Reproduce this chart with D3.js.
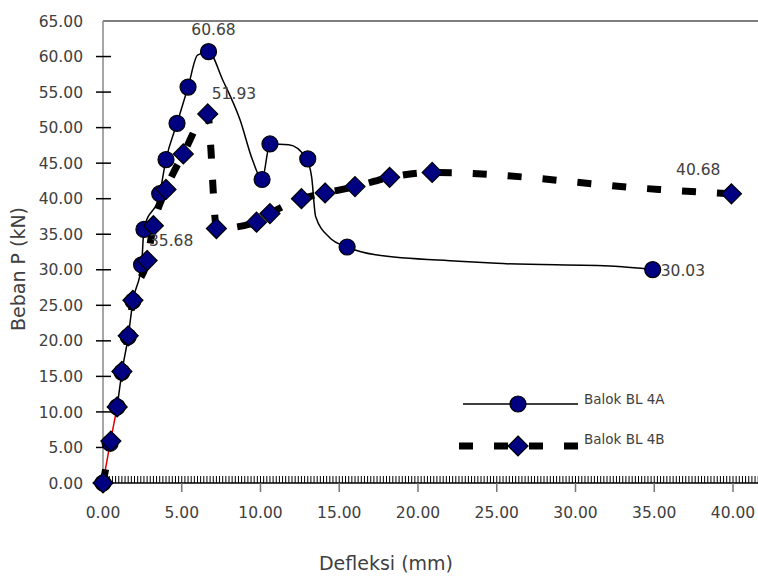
<!DOCTYPE html>
<html>
<head>
<meta charset="utf-8">
<script src="https://cdn.jsdelivr.net/npm/d3@7"></script>
<style>
 body { margin: 0; background: #fff; }
 text { font-family: "DejaVu Sans", sans-serif; fill: #404040; }
</style>
</head>
<body>
<svg width="758" height="578"></svg>
<script>
// Balok BL 4A - markers
var dispA = [0, 0.45, 0.9, 1.2, 1.6, 1.9, 2.45, 2.6, 3.6, 4.0, 4.7, 5.4, 6.7, 10.1, 10.6, 13.0, 15.5, 34.9];
var loadA = [0, 5.6, 10.7, 15.6, 20.6, 25.6, 30.7, 35.68, 40.7, 45.5, 50.6, 55.7, 60.68, 42.7, 47.7, 45.6, 33.2, 30.03];
// Balok BL 4A - smoothed line as drawn
var lineDispA = [0.9, 1.2, 1.6, 1.9, 2.45, 2.6, 3.6, 4.0, 4.7, 5.4, 6.0, 6.7, 7.6, 8.7, 9.5, 10.1, 10.6, 11.8, 12.9, 13.25, 13.5, 14.4, 15.5, 17.3, 22.6, 25.0, 32.5, 34.9];
var lineLoadA = [10.7, 15.6, 20.6, 25.6, 30.7, 35.68, 40.7, 45.5, 50.6, 55.7, 60.2, 60.68, 56.7, 51.1, 45.4, 42.7, 47.7, 47.6, 45.7, 43.0, 37.5, 34.5, 33.2, 32.1, 31.2, 30.9, 30.5, 30.03];
// first segment drawn in red
var redDisp = [0, 0.45, 0.9];
var redLoad = [0, 5.6, 10.7];

// Balok BL 4B - markers
var dispB = [0, 0.5, 0.9, 1.2, 1.6, 1.9, 2.8, 3.2, 4.0, 5.1, 6.65, 7.2, 9.75, 10.6, 12.6, 14.1, 16.0, 18.2, 20.9, 39.9];
var loadB = [0, 5.9, 10.7, 15.7, 20.7, 25.7, 31.3, 36.2, 41.3, 46.3, 51.93, 35.8, 36.7, 37.9, 40.0, 40.8, 41.7, 43.0, 43.7, 40.68];
// Balok BL 4B - dashed line
var lineDispB = [0, 0.5, 0.9, 1.2, 1.6, 1.9, 2.8, 3.2, 4.0, 5.1, 6.65, 6.85, 7.0, 7.2, 9.75, 10.6, 12.6, 14.1, 16.0, 18.2, 20.9, 35.3, 39.9];
var lineLoadB = [0, 5.9, 10.7, 15.7, 20.7, 25.7, 31.3, 36.2, 41.3, 46.3, 51.93, 47.0, 41.0, 35.8, 36.7, 37.9, 40.0, 40.8, 41.7, 43.0, 43.7, 41.3, 40.68];

// data labels
var labelText = ["60.68", "51.93", "35.68", "40.68", "30.03"];
var labelDisp = [6.7, 6.65, 2.6, 39.9, 34.9];
var labelLoad = [60.68, 51.93, 35.68, 40.68, 30.03];

var yTicks = d3.range(0, 65.01, 5);
var xTicks = d3.range(0, 40.01, 5);
var xMinor = d3.range(0, 41.7, 0.2);

var svg = d3.select("svg");

var x = d3.scaleLinear().domain([0, 40]).range([103, 733]);
var y = d3.scaleLinear().domain([0, 65]).range([483, 21]);

var zipA = dispA.map(function (d, i) { return [d, loadA[i]]; });
var zipB = dispB.map(function (d, i) { return [d, loadB[i]]; });
var zipLineA = lineDispA.map(function (d, i) { return [d, lineLoadA[i]]; });
var zipLineB = lineDispB.map(function (d, i) { return [d, lineLoadB[i]]; });
var zipRed = redDisp.map(function (d, i) { return [d, redLoad[i]]; });

var line = d3.line()
 .x(function (d) { return x(d[0]); })
 .y(function (d) { return y(d[1]); })
 .curve(d3.curveMonotoneX);

// top frame line
svg.append("line")
 .attr("x1", x(0)).attr("x2", 758)
 .attr("y1", y(65)).attr("y2", y(65))
 .attr("stroke", "#000").attr("stroke-width", 1.2);

// y axis
svg.append("line")
 .attr("x1", x(0)).attr("x2", x(0))
 .attr("y1", y(65)).attr("y2", y(0))
 .attr("stroke", "#888").attr("stroke-width", 1.5);
svg.selectAll(".ytick")
 .data(yTicks.filter(function (d) { return d > 0 && d < 65; }))
 .enter().append("line")
 .attr("x1", x(0) - 7).attr("x2", x(0) + 8)
 .attr("y1", function (d) { return y(d); })
 .attr("y2", function (d) { return y(d); })
 .attr("stroke", "#000").attr("stroke-width", 1.5);
svg.selectAll(".ylab")
 .data(yTicks)
 .enter().append("text")
 .attr("x", 83)
 .attr("y", function (d) { return y(d); })
 .attr("dy", "0.36em")
 .attr("text-anchor", "end")
 .style("font-size", "15.5px")
 .text(function (d) { return d.toFixed(2); });

// x axis with dense minor ticks
svg.selectAll(".xminor")
 .data(xMinor)
 .enter().append("line")
 .attr("x1", function (d) { return x(d); })
 .attr("x2", function (d) { return x(d); })
 .attr("y1", y(0) - 7).attr("y2", y(0))
 .attr("stroke", "#000").attr("stroke-width", 1);
svg.append("line")
 .attr("x1", x(0)).attr("x2", 758)
 .attr("y1", y(0)).attr("y2", y(0))
 .attr("stroke", "#000").attr("stroke-width", 1.5);
svg.selectAll(".xtick")
 .data(xTicks)
 .enter().append("line")
 .attr("x1", function (d) { return x(d); })
 .attr("x2", function (d) { return x(d); })
 .attr("y1", y(0)).attr("y2", y(0) + 9)
 .attr("stroke", "#777").attr("stroke-width", 1.5);
svg.selectAll(".xlab")
 .data(xTicks)
 .enter().append("text")
 .attr("x", function (d) { return x(d); })
 .attr("y", 512)
 .attr("dy", "0.36em")
 .attr("text-anchor", "middle")
 .style("font-size", "15.5px")
 .text(function (d) { return d.toFixed(2); });

// axis titles
svg.append("text")
 .attr("transform", "translate(25,269) rotate(-90)")
 .attr("text-anchor", "middle")
 .style("font-size", "19px")
 .text("Beban P (kN)");
svg.append("text")
 .attr("x", 386).attr("y", 570)
 .attr("text-anchor", "middle")
 .style("font-size", "19px")
 .text("Defleksi (mm)");

// lines
svg.append("path")
 .attr("d", line(zipLineA))
 .attr("fill", "none").attr("stroke", "#000").attr("stroke-width", 1.5);
svg.append("path")
 .attr("d", line(zipRed))
 .attr("fill", "none").attr("stroke", "#e00000").attr("stroke-width", 1.5);
svg.append("path")
 .attr("d", line(zipLineB))
 .attr("fill", "none").attr("stroke", "#000").attr("stroke-width", 7)
 .attr("stroke-dasharray", "14,21");

// markers
var diamond = "M0,-10L10,0L0,10L-10,0Z";
svg.selectAll(".markA")
 .data(zipA)
 .enter().append("circle")
 .attr("cx", function (d) { return x(d[0]); })
 .attr("cy", function (d) { return y(d[1]); })
 .attr("r", 8)
 .attr("fill", "#000080").attr("stroke", "#000").attr("stroke-width", 1.2);
svg.selectAll(".markB")
 .data(zipB)
 .enter().append("path")
 .attr("d", diamond)
 .attr("transform", function (d) { return "translate(" + x(d[0]) + "," + y(d[1]) + ")"; })
 .attr("fill", "#000080").attr("stroke", "#000").attr("stroke-width", 1.2);

// data labels
var labelDx = [5, 4, 5, -11, 8];
var labelDy = [-17, -15, 17, -19, 6];
var labelAnchor = ["middle", "start", "start", "end", "start"];
svg.selectAll(".dlab")
 .data(labelText)
 .enter().append("text")
 .attr("x", function (d, i) { return x(labelDisp[i]) + labelDx[i]; })
 .attr("y", function (d, i) { return y(labelLoad[i]) + labelDy[i]; })
 .attr("text-anchor", function (d, i) { return labelAnchor[i]; })
 .style("font-size", "15.5px")
 .text(function (d) { return d; });

// legend
var lg = svg.append("g").attr("class", "legend");
lg.append("line")
 .attr("x1", 463).attr("x2", 578).attr("y1", 404).attr("y2", 404)
 .attr("stroke", "#000").attr("stroke-width", 1.5);
lg.append("circle")
 .attr("cx", 518).attr("cy", 404).attr("r", 8)
 .attr("fill", "#000080").attr("stroke", "#000").attr("stroke-width", 1.2);
lg.append("text")
 .attr("x", 584).attr("y", 399).attr("dy", "0.36em")
 .style("font-size", "13.5px")
 .text("Balok BL 4A");
lg.append("line")
 .attr("x1", 459).attr("x2", 580).attr("y1", 446).attr("y2", 446)
 .attr("stroke", "#000").attr("stroke-width", 7)
 .attr("stroke-dasharray", "14,21");
lg.append("path")
 .attr("d", diamond)
 .attr("transform", "translate(518,446)")
 .attr("fill", "#000080").attr("stroke", "#000").attr("stroke-width", 1.2);
lg.append("text")
 .attr("x", 584).attr("y", 439).attr("dy", "0.36em")
 .style("font-size", "13.5px")
 .text("Balok BL 4B");
</script>
</body>
</html>
